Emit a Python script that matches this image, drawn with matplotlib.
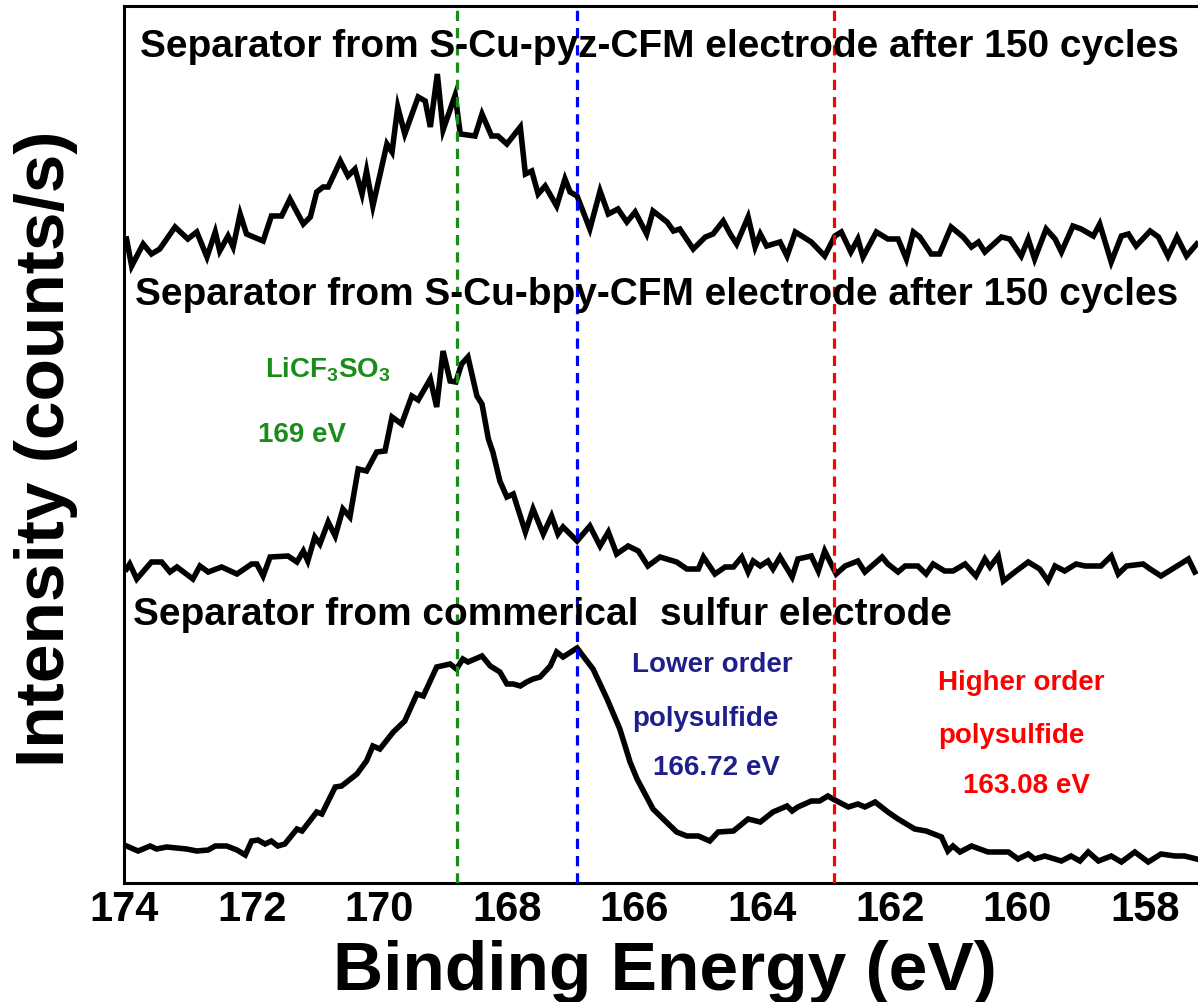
import matplotlib
matplotlib.use("Agg")
import matplotlib.pyplot as plt
import numpy as np

plt.rcParams['font.family'] = 'Liberation Sans'
plt.rcParams['font.weight'] = 'bold'
plt.rcParams['mathtext.fontset'] = 'custom'
plt.rcParams['mathtext.rm'] = 'Liberation Sans:bold'
plt.rcParams['mathtext.default'] = 'rm'

# S 2p spectra (binding energy in eV, intensity in arbitrary counts/s, stacked)
pyz_be = [173.96, 173.88, 173.70, 173.57, 173.44, 173.20, 173.00, 172.86, 172.70, 172.57,
          172.50, 172.37, 172.29, 172.18, 172.08, 171.82, 171.69, 171.53, 171.40, 171.19,
          171.08, 170.98, 170.88, 170.80, 170.61, 170.49, 170.38, 170.27, 170.20, 170.10,
          169.88, 169.80, 169.71, 169.60, 169.39, 169.28, 169.20, 169.09, 169.00, 168.81,
          168.73, 168.50, 168.39, 168.24, 168.14, 168.00, 167.79, 167.71, 167.61, 167.51,
          167.40, 167.22, 167.09, 167.01, 166.90, 166.70, 166.54, 166.41, 166.26, 166.12,
          165.99, 165.81, 165.71, 165.49, 165.39, 165.29, 165.08, 164.89, 164.77, 164.61,
          164.50, 164.40, 164.22, 164.11, 164.03, 163.93, 163.72, 163.61, 163.48, 163.23,
          163.02, 162.86, 162.76, 162.61, 162.50, 162.42, 162.21, 162.03, 161.87, 161.74,
          161.63, 161.53, 161.35, 161.22, 161.04, 160.85, 160.72, 160.61, 160.51, 160.25,
          160.12, 159.94, 159.83, 159.73, 159.55, 159.41, 159.31, 159.13, 159.00, 158.81,
          158.71, 158.53, 158.37, 158.26, 158.14, 157.92, 157.79, 157.64, 157.50, 157.35,
          157.19]
pyz_int = [644, 617, 639, 629, 634, 656, 644, 651, 626, 651,
           632, 647, 636, 669, 649, 642, 667, 667, 684, 659,
           666, 691, 696, 696, 722, 707, 714, 689, 712, 677,
           739, 731, 776, 749, 786, 782, 756, 809, 753, 788,
           749, 747, 769, 747, 747, 739, 756, 709, 712, 689,
           697, 677, 704, 691, 687, 654, 692, 669, 674, 661,
           671, 649, 672, 661, 652, 654, 634, 646, 649, 662,
           649, 639, 666, 636, 649, 637, 641, 627, 651, 641,
           627, 647, 651, 631, 644, 626, 651, 644, 644, 624,
           651, 646, 629, 629, 656, 646, 636, 641, 631, 646,
           644, 627, 644, 624, 654, 644, 631, 657, 654, 647,
           659, 621, 647, 649, 637, 652, 646, 627, 646, 627,
           639]

bpy_be = [173.96, 173.91, 173.80, 173.57, 173.41, 173.28, 173.17, 172.92, 172.81, 172.68,
          172.47, 172.23, 172.00, 171.92, 171.82, 171.71, 171.43, 171.29, 171.19, 171.12,
          171.01, 170.93, 170.80, 170.69, 170.57, 170.46, 170.33, 170.20, 170.04, 169.91,
          169.80, 169.65, 169.49, 169.39, 169.20, 169.10, 169.00, 168.89, 168.80, 168.71,
          168.61, 168.47, 168.39, 168.29, 168.22, 168.11, 168.00, 167.90, 167.71, 167.59,
          167.43, 167.30, 167.20, 167.12, 166.90, 166.70, 166.54, 166.41, 166.28, 166.10,
          165.94, 165.79, 165.60, 165.34, 165.18, 165.00, 164.92, 164.74, 164.58, 164.45,
          164.32, 164.22, 164.14, 164.03, 163.91, 163.83, 163.72, 163.53, 163.44, 163.23,
          163.12, 163.02, 162.84, 162.70, 162.50, 162.39, 162.12, 162.03, 161.87, 161.76,
          161.56, 161.43, 161.32, 161.14, 161.01, 160.82, 160.65, 160.51, 160.43, 160.30,
          160.22, 160.04, 159.83, 159.65, 159.52, 159.41, 159.26, 159.08, 158.94, 158.69,
          158.53, 158.42, 158.29, 158.03, 157.92, 157.75, 157.32, 157.22]
bpy_int = [314, 319, 304, 321, 321, 311, 316, 304, 317, 311,
           316, 309, 319, 319, 307, 326, 327, 321, 332, 322,
           346, 339, 361, 347, 374, 366, 414, 412, 431, 432,
           466, 459, 487, 483, 504, 476, 532, 502, 501, 519,
           526, 487, 479, 444, 431, 402, 386, 389, 351, 374,
           349, 367, 349, 356, 342, 357, 337, 351, 329, 337,
           332, 317, 326, 321, 314, 314, 326, 309, 316, 316,
           326, 311, 322, 317, 322, 314, 326, 306, 324, 327,
           312, 332, 309, 317, 322, 311, 326, 319, 311, 317,
           317, 309, 319, 312, 312, 319, 307, 324, 316, 327,
           302, 311, 321, 314, 302, 317, 312, 319, 317, 317,
           327, 309, 317, 319, 314, 307, 324, 311]

com_be = [173.96, 173.78, 173.59, 173.49, 173.33, 173.02, 172.86, 172.68, 172.57, 172.39,
          172.23, 172.10, 172.00, 171.90, 171.79, 171.69, 171.59, 171.48, 171.29, 171.21,
          170.98, 170.90, 170.69, 170.59, 170.35, 170.20, 170.10, 169.99, 169.78, 169.60,
          169.41, 169.31, 169.10, 168.89, 168.79, 168.69, 168.61, 168.39, 168.26, 168.11,
          168.00, 167.90, 167.79, 167.69, 167.59, 167.48, 167.32, 167.22, 167.12, 166.90,
          166.83, 166.65, 166.43, 166.23, 166.07, 165.96, 165.71, 165.55, 165.34, 165.18,
          165.00, 164.82, 164.69, 164.45, 164.22, 164.03, 163.83, 163.61, 163.53, 163.44,
          163.23, 163.10, 162.97, 162.89, 162.65, 162.50, 162.39, 162.23, 162.03, 161.87,
          161.61, 161.43, 161.19, 161.09, 161.01, 160.90, 160.72, 160.46, 160.30, 160.14,
          159.99, 159.83, 159.73, 159.57, 159.31, 159.16, 159.02, 158.89, 158.73, 158.53,
          158.37, 158.16, 157.95, 157.75, 157.53, 157.38, 157.19]
com_int = [37, 32, 37, 34, 36, 34, 32, 33, 37, 37,
           33, 28, 42, 43, 39, 42, 37, 39, 54, 52,
           71, 69, 96, 97, 109, 122, 137, 134, 151, 162,
           189, 187, 216, 219, 214, 224, 221, 227, 217, 211,
           199, 199, 197, 201, 204, 206, 217, 231, 226, 235,
           229, 214, 184, 154, 121, 104, 74, 64, 51, 47,
           47, 42, 51, 52, 64, 61, 71, 77, 72, 76,
           82, 82, 87, 84, 76, 79, 76, 81, 71, 64,
           54, 52, 46, 32, 37, 31, 37, 31, 31, 31,
           24, 29, 24, 27, 22, 27, 22, 31, 22, 27,
           21, 31, 21, 29, 27, 27, 24]

peak_be = [168.78, 166.90, 162.87]
peak_colors = ['#1a8c1a', '#0000ff', '#ff0000']

titles = ["Separator from S-Cu-pyz-CFM electrode after 150 cycles",
          "Separator from S-Cu-bpy-CFM electrode after 150 cycles",
          "Separator from commerical  sulfur electrode"]

W, H = 1198, 1003
fig = plt.figure(figsize=(W / 100, H / 100), dpi=100)
ax = fig.add_axes([124 / W, 1 - 884 / H, 1 - 124 / W, (884 - 7) / H])

for be, inten in [(pyz_be, pyz_int), (bpy_be, bpy_int), (com_be, com_int)]:
    ax.plot(be, inten, color='black', lw=4.0, solid_joinstyle='miter', zorder=2)

for e, c in zip(peak_be, peak_colors):
    ax.axvline(e, color=c, lw=2.3, dashes=(3.2, 2.2), zorder=3)

ax.set_xlim(174, 157.17)
ax.set_ylim(0, 877)
ax.set_xticks(np.arange(174, 157, -2))
ax.set_yticks([])
ax.tick_params(axis='x', length=0, pad=4, labelsize=30)
for lab in ax.get_xticklabels():
    lab.set_fontweight('bold')
ax.spines['right'].set_visible(False)
for s in ['left', 'bottom', 'top']:
    ax.spines[s].set_linewidth(2.2)


def put(px, py, s, color='black', size=28):
    fig.text(px / W, 1 - py / H, s, color=color, fontsize=size,
             fontweight='bold', ha='left', va='baseline', zorder=1)


put(140, 57, titles[0])
put(135, 305, titles[1])
put(133, 625, titles[2])

put(265, 378, r"LiCF$_3$SO$_3$", color='#1a8c1a', size=20)
put(258, 442, "169 eV", color='#1a8c1a', size=20)

navy = '#1f1f8c'
put(632, 672, "Lower order", color=navy, size=20)
put(632, 726, "polysulfide", color=navy, size=20)
put(653, 775, "166.72 eV", color=navy, size=20)

put(938, 690, "Higher order", color='#ff0000', size=20)
put(938, 743, "polysulfide", color='#ff0000', size=20)
put(963, 793, "163.08 eV", color='#ff0000', size=20)

fig.text(665 / W, 1 - 990 / H, "Binding Energy (eV)", fontsize=50,
         fontweight='bold', ha='center', va='baseline')
fig.text(46 / W, 1 - 449 / H, "Intensity (counts/s)", fontsize=50,
         fontweight='bold', rotation=90, ha='center', va='center')

fig.savefig("out.png", dpi=100)
